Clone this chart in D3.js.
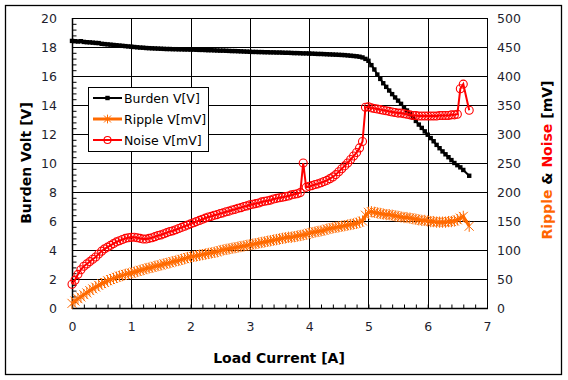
<!DOCTYPE html>
<html><head><meta charset="utf-8">
<script src="https://cdn.jsdelivr.net/npm/d3@7/dist/d3.min.js"></script>
<style>body{margin:0;background:#fff}svg{display:block}text{font-family:"DejaVu Sans",sans-serif}</style>
</head><body><svg id="c" width="568" height="380"></svg>
<script>
const current = [
 0,0.05,0.1,0.15,0.2,0.25,0.3,0.35,0.4,0.45,
 0.5,0.55,0.6,0.65,0.7,0.75,0.8,0.85,0.9,0.95,
 1.0,1.05,1.1,1.15,1.2,1.25,1.3,1.35,1.4,1.45,
 1.5,1.55,1.6,1.65,1.7,1.75,1.8,1.85,1.9,1.95,
 2.0,2.05,2.1,2.15,2.2,2.25,2.3,2.35,2.4,2.45,
 2.5,2.55,2.6,2.65,2.7,2.75,2.8,2.85,2.9,2.95,
 3.0,3.05,3.1,3.15,3.2,3.25,3.3,3.35,3.4,3.45,
 3.5,3.55,3.6,3.65,3.7,3.75,3.8,3.85,3.9,3.95,
 4.0,4.05,4.1,4.15,4.2,4.25,4.3,4.35,4.4,4.45,
 4.5,4.55,4.6,4.65,4.7,4.75,4.8,4.85,4.9,4.95,
 5.0,5.05,5.1,5.15,5.2,5.25,5.3,5.35,5.4,5.45,
 5.5,5.55,5.6,5.65,5.7,5.75,5.8,5.85,5.9,5.95,
 6.0,6.05,6.1,6.15,6.2,6.25,6.3,6.35,6.4,6.45,
 6.5,6.55,6.6,6.7];
const burdenV = [
 18.42,18.40,18.38,18.40,18.35,18.33,18.32,18.30,18.28,18.27,
 18.22,18.20,18.18,18.16,18.14,18.12,18.10,18.08,18.06,18.04,
 18.02,18.00,17.98,17.96,17.95,17.93,17.92,17.91,17.90,17.89,
 17.88,17.87,17.86,17.86,17.85,17.85,17.84,17.84,17.83,17.83,
 17.82,17.82,17.81,17.80,17.80,17.79,17.78,17.78,17.77,17.76,
 17.75,17.75,17.74,17.73,17.72,17.72,17.71,17.70,17.69,17.68,
 17.67,17.66,17.66,17.65,17.65,17.64,17.64,17.63,17.63,17.62,
 17.62,17.61,17.60,17.60,17.59,17.58,17.58,17.57,17.56,17.56,
 17.55,17.54,17.53,17.52,17.52,17.51,17.50,17.49,17.48,17.47,
 17.46,17.45,17.44,17.42,17.40,17.38,17.36,17.33,17.28,17.18,
 17.05,16.75,16.45,16.10,15.80,15.50,15.25,15.00,14.75,14.52,
 14.30,14.08,13.85,13.62,13.38,13.15,12.90,12.65,12.42,12.18,
 11.95,11.72,11.50,11.25,11.02,10.80,10.60,10.40,10.20,10.00,
 9.85,9.70,9.52,9.12];
const rippleMV = [
 8,12,16,19,23,26,30,33,36,39,
 42,44,47,49,51,53,55,56,58,59,
 60,62,63,65,66,68,69,70,72,73,
 74,76,77,78,80,81,82,84,85,87,
 88,89,90,91,92,93,94,95,96,97,
 99,100,101,102,103,104,105,106,107,108,
 109,110,111,112,113,114,115,116,117,118,
 119,120,121,122,122,123,124,125,126,127,
 129,130,131,132,133,134,136,137,138,139,
 140,141,142,143,144,145,146,148,150,160,
 165,166,165,164,163,162,161,161,160,159,
 158,157,156,156,155,154,153,152,151,151,
 150,149,149,148,148,148,148,149,149,150,
 152,155,158,141];
const noiseMV = [
 41,48,58,66,72,76,80,84,88,93,
 98,102,105,108,111,114,116,118,120,121,
 122,122,121,120,119,119,120,121,123,125,
 126,128,130,132,133,135,137,139,141,143,
 145,147,149,151,153,155,157,158,160,161,
 163,164,166,167,169,170,172,173,175,176,
 178,179,180,181,183,184,185,186,188,189,
 190,191,192,193,195,196,197,199,250,208,
 210,211,213,214,216,218,220,223,226,230,
 235,240,245,250,256,262,268,276,287,346,
 347,345,344,343,342,341,340,339,338,337,
 336,336,335,334,333,332,332,331,331,331,
 331,331,331,331,332,332,332,332,333,333,
 334,378,386,341];
const xTicks = [0,1,2,3,4,5,6,7];
const yLeftTicks = [0,2,4,6,8,10,12,14,16,18,20];
const yRightTicks = [0,50,100,150,200,250,300,350,400,450,500];
const seriesNames = ["Burden V[V]","Ripple V[mV]","Noise V[mV]"];

const svg = d3.select("#c");
const X0=72, X1=487, Y0=308, Y1=18;
const x = d3.scaleLinear().domain([0,7]).range([X0,X1]);
const yL = d3.scaleLinear().domain([0,20]).range([Y0,Y1]);
const yR = d3.scaleLinear().domain([0,500]).range([Y0,Y1]);
const tickColor = "#1e1e2e";

// outer border
svg.append("rect").attr("x",5.5).attr("y",5.5).attr("width",556).attr("height",369)
  .attr("fill","#fff").attr("stroke","#000").attr("stroke-width",1.3);

// gridlines
const g = svg.append("g");
g.selectAll(".hg").data(yLeftTicks).join("line")
  .attr("x1",X0).attr("x2",X1).attr("y1",d=>Math.round(yL(d))+0.5).attr("y2",d=>Math.round(yL(d))+0.5)
  .attr("stroke","#000").attr("stroke-width",1);
g.selectAll(".vg").data(xTicks).join("line")
  .attr("y1",Y1).attr("y2",Y0).attr("x1",d=>Math.round(x(d))+0.5).attr("x2",d=>Math.round(x(d))+0.5)
  .attr("stroke","#000").attr("stroke-width",1);

// minor ticks (inside)
const bottomMinor = d3.axisTop(x).tickValues(d3.range(0,7.001,0.2)).tickSize(4).tickFormat("");
svg.append("g").attr("transform",`translate(0,${Y0+0.5})`).call(bottomMinor)
  .call(s=>s.select(".domain").remove()).selectAll("line").attr("stroke","#000");
const leftMinor = d3.axisRight(yL).tickValues(d3.range(0,20.001,0.4)).tickSize(4).tickFormat("");
svg.append("g").attr("transform",`translate(${X0+0.5},0)`).call(leftMinor)
  .call(s=>s.select(".domain").remove()).selectAll("line").attr("stroke","#000");

// axes lines
svg.append("line").attr("x1",X0+0.5).attr("x2",X0+0.5).attr("y1",Y1).attr("y2",Y0+1).attr("stroke","#000").attr("stroke-width",1.5);
svg.append("line").attr("x1",X0).attr("x2",X1+1).attr("y1",Y0+0.5).attr("y2",Y0+0.5).attr("stroke","#000").attr("stroke-width",1.5);

// tick labels
const left = d3.axisLeft(yL).tickValues(yLeftTicks).tickSize(0).tickPadding(0).tickFormat(d3.format("d"));
svg.append("g").attr("transform",`translate(57,0)`).call(left)
  .call(s=>s.select(".domain").remove())
  .selectAll("text").attr("font-size",12.5).attr("font-family","DejaVu Sans").attr("fill",tickColor);
const right = d3.axisRight(yR).tickValues(yRightTicks).tickSize(0).tickPadding(0).tickFormat(d3.format("d"));
svg.append("g").attr("transform",`translate(497,0)`).call(right)
  .call(s=>s.select(".domain").remove())
  .selectAll("text").attr("font-size",12.5).attr("font-family","DejaVu Sans").attr("fill",tickColor);
const bottom = d3.axisBottom(x).tickValues(xTicks).tickSize(0).tickPadding(0).tickFormat(d3.format("d"));
svg.append("g").attr("transform",`translate(0,${Y0+14})`).call(bottom)
  .call(s=>s.select(".domain").remove())
  .selectAll("text").attr("font-size",12.5).attr("font-family","DejaVu Sans").attr("fill",tickColor);

// axis titles
svg.append("text").attr("x",279).attr("y",363).attr("text-anchor","middle")
  .attr("font-size",14).attr("font-weight","bold").attr("fill","#000").text("Load Current  [A]");
svg.append("text").attr("transform","translate(31,163) rotate(-90)").attr("text-anchor","middle")
  .attr("font-size",14).attr("font-weight","bold").attr("fill","#000").text("Burden Volt [V]");
const rt = svg.append("text").attr("transform","translate(552,160) rotate(-90)").attr("text-anchor","middle")
  .attr("font-size",14).attr("font-weight","bold");
rt.append("tspan").attr("fill","#FF6600").text("Ripple ");
rt.append("tspan").attr("fill","#000").text("& ");
rt.append("tspan").attr("fill","#FF0000").text("Noise ");
rt.append("tspan").attr("fill","#000").text("[mV]");

// data
const rows = current.map((c,i)=>({c, b:burdenV[i], r:rippleMV[i], n:noiseMV[i]}));
const starPath = s => `M${-s},${-s}L${s},${s}M${-s},${s}L${s},${-s}M0,${-s*1.25}L0,${s*1.25}`;

// burden
svg.append("path").datum(rows).attr("fill","none").attr("stroke","#000").attr("stroke-width",2)
  .attr("d",d3.line().x(d=>x(d.c)).y(d=>yL(d.b)));
svg.append("g").selectAll("rect").data(rows).join("rect")
  .attr("x",d=>x(d.c)-2.2).attr("y",d=>yL(d.b)-2.2).attr("width",4.4).attr("height",4.4).attr("fill","#000");

// ripple
const orange="#FF6A00";
svg.append("path").datum(rows).attr("fill","none").attr("stroke",orange).attr("stroke-width",3)
  .attr("d",d3.line().x(d=>x(d.c)).y(d=>yR(d.r)));
svg.append("g").selectAll("path").data(rows).join("path")
  .attr("transform",d=>`translate(${x(d.c)},${yR(d.r)})`).attr("d",starPath(4.5))
  .attr("stroke",orange).attr("stroke-width",1).attr("fill","none");

// noise
const red="#FF0000";
svg.append("path").datum(rows).attr("fill","none").attr("stroke",red).attr("stroke-width",2)
  .attr("d",d3.line().x(d=>x(d.c)).y(d=>yR(d.n)));
svg.append("g").selectAll("circle").data(rows).join("circle")
  .attr("cx",d=>x(d.c)).attr("cy",d=>yR(d.n)).attr("r",4)
  .attr("stroke",red).attr("stroke-width",1.1).attr("fill","none");

// legend
const lg = svg.append("g");
lg.append("rect").attr("x",88.5).attr("y",87.5).attr("width",120).attr("height",64)
  .attr("fill","#fff").attr("stroke","#000").attr("stroke-width",1);
const ly = [98,119,140];
const colors = ["#000",orange,red];
const lw = [2,3,2];
seriesNames.forEach((name,i)=>{
  lg.append("line").attr("x1",93).attr("x2",122).attr("y1",ly[i]).attr("y2",ly[i])
    .attr("stroke",colors[i]).attr("stroke-width",lw[i]);
  if(i===0) lg.append("rect").attr("x",105.3).attr("y",ly[i]-2.2).attr("width",4.4).attr("height",4.4).attr("fill","#000");
  if(i===1) lg.append("path").attr("transform",`translate(107.5,${ly[i]})`).attr("d",starPath(3.5)).attr("stroke",orange).attr("stroke-width",1).attr("fill","none");
  if(i===2) lg.append("circle").attr("cx",107.5).attr("cy",ly[i]).attr("r",3.5).attr("stroke",red).attr("stroke-width",1.1).attr("fill","none");
  lg.append("text").attr("x",124).attr("y",ly[i]+4.5).attr("font-size",12.5).attr("fill","#000").text(name);
});
</script></body></html>
